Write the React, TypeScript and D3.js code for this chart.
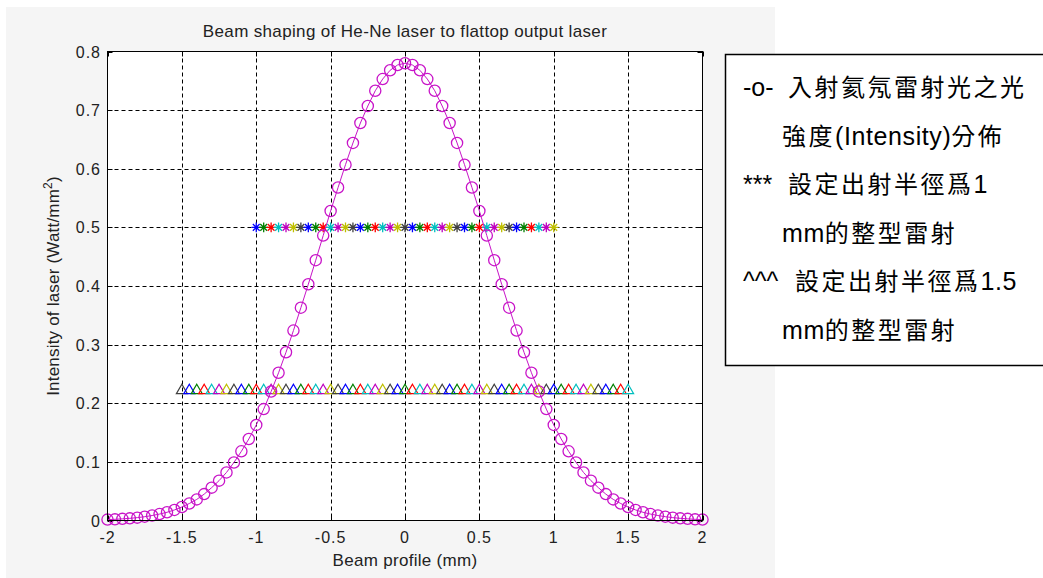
import React from 'react';
import * as d3 from 'd3';

// beam profile samples (mm) and measured He-Ne intensity (Watt/mm^2)
const beamX = [
  -2, -1.95, -1.9, -1.85, -1.8, -1.75, -1.7, -1.65, -1.6, -1.55,
  -1.5, -1.45, -1.4, -1.35, -1.3, -1.25, -1.2, -1.15, -1.1, -1.05,
  -1, -0.95, -0.9, -0.85, -0.8, -0.75, -0.7, -0.65, -0.6, -0.55,
  -0.5, -0.45, -0.4, -0.35, -0.3, -0.25, -0.2, -0.15, -0.1, -0.05,
  0, 0.05, 0.1, 0.15, 0.2, 0.25, 0.3, 0.35, 0.4, 0.45,
  0.5, 0.55, 0.6, 0.65, 0.7, 0.75, 0.8, 0.85, 0.9, 0.95,
  1, 1.05, 1.1, 1.15, 1.2, 1.25, 1.3, 1.35, 1.4, 1.45,
  1.5, 1.55, 1.6, 1.65, 1.7, 1.75, 1.8, 1.85, 1.9, 1.95, 2,
];
const beamIntensity = [
  0.0015, 0.002, 0.0028, 0.0037, 0.0049, 0.0065, 0.0085, 0.011, 0.014, 0.018,
  0.023, 0.029, 0.036, 0.045, 0.056, 0.068, 0.082, 0.099, 0.118, 0.139,
  0.163, 0.19, 0.22, 0.252, 0.287, 0.324, 0.363, 0.403, 0.444, 0.486,
  0.528, 0.568, 0.607, 0.644, 0.678, 0.707, 0.733, 0.753, 0.768, 0.777,
  0.78, 0.777, 0.768, 0.753, 0.733, 0.707, 0.678, 0.644, 0.607, 0.568,
  0.528, 0.486, 0.444, 0.403, 0.363, 0.324, 0.287, 0.252, 0.22, 0.19,
  0.163, 0.139, 0.118, 0.099, 0.082, 0.068, 0.056, 0.045, 0.036, 0.029,
  0.023, 0.018, 0.014, 0.011, 0.0085, 0.0065, 0.0049, 0.0037, 0.0028, 0.002, 0.0015,
];

// flattop outputs: radius 1 mm (stars) and 1.5 mm (triangles)
const flat1Radius = 1;
const flat1Level = 0.5;
const flat15Radius = 1.5;
const flat15Level = 0.224;

const xTicks = [-2, -1.5, -1, -0.5, 0, 0.5, 1, 1.5, 2];
const yTicks = [0, 0.1, 0.2, 0.3, 0.4, 0.5, 0.6, 0.7, 0.8];

// old matlab ColorOrder b g r c m y k
const colorOrder = ['#0000ff', '#008000', '#ff0000', '#00bfbf', '#bf00bf', '#bfbf00', '#404040'];
const beamColor = '#c814c8';

const legendRows = [
  { mark: '-o-', text: '入射氦氖雷射光之光', textX: 788 },
  { mark: '', text: '強度(Intensity)分佈', textX: 782 },
  { mark: '***', text: '設定出射半徑爲1', textX: 788 },
  { mark: '', text: 'mm的整型雷射', textX: 782 },
  { mark: '^^^', text: '設定出射半徑爲1.5', textX: 795 },
  { mark: '', text: 'mm的整型雷射', textX: 782 },
];

const font = '"Liberation Sans", Arial, "Noto Sans CJK TC", sans-serif';

// CJK runs get extra spacing, latin runs stay tight
const splitRuns = (s: string) => s.match(/[\u3000-\u9fff]+|[^\u3000-\u9fff]+/g) || [];

const App: React.FC = () => {
  const width = 1043;
  const height = 578;
  const left = 107.5, right = 702.5, top = 51.5, bottom = 520.5;

  const x = d3.scaleLinear().domain([-2, 2]).range([left, right]);
  const y = d3.scaleLinear().domain([0, 0.8]).range([bottom, top]);

  const pts = beamX.map((v, i) => [v, beamIntensity[i]] as [number, number]);
  const line = d3.line<[number, number]>().x(d => x(d[0])).y(d => y(d[1]));

  const starX = beamX.filter(v => Math.abs(v) <= flat1Radius + 1e-9);
  const triX = beamX.filter(v => Math.abs(v) <= flat15Radius + 1e-9);

  const star = (cx: number, cy: number) => {
    const s = 4.8, d = 3.4;
    return `M${cx - s},${cy}L${cx + s},${cy}M${cx},${cy - s}L${cx},${cy + s}` +
      `M${cx - d},${cy - d}L${cx + d},${cy + d}M${cx - d},${cy + d}L${cx + d},${cy - d}`;
  };
  const tri = (cx: number, cy: number) =>
    `M${cx},${cy - 5}L${cx + 5.5},${cy + 4.5}L${cx - 5.5},${cy + 4.5}Z`;

  return (
    <svg width={width} height={height} style={{ position: 'absolute', left: 0, top: 0 }} fontFamily={font}>
      <rect x={0} y={0} width={width} height={height} fill="#fff" />
      <rect x={6} y={7} width={769} height={571} fill="#f5f5f5" />
      <rect x={left} y={top} width={right - left} height={bottom - top} fill="#fff" />

      {/* grid */}
      <g stroke="#000" strokeWidth={1} strokeDasharray="4,3">
        {xTicks.slice(1, -1).map(t => (
          <line key={'gx' + t} x1={Math.round(x(t)) + 0.5} x2={Math.round(x(t)) + 0.5} y1={top} y2={bottom} />
        ))}
        {yTicks.slice(1, -1).map(t => (
          <line key={'gy' + t} x1={left} x2={right} y1={Math.round(y(t)) + 0.5} y2={Math.round(y(t)) + 0.5} />
        ))}
      </g>

      {/* ticks */}
      <g stroke="#000" strokeWidth={1}>
        {xTicks.map(t => (
          <g key={'tx' + t}>
            <line x1={Math.round(x(t)) + 0.5} x2={Math.round(x(t)) + 0.5} y1={bottom} y2={bottom - 5} />
            <line x1={Math.round(x(t)) + 0.5} x2={Math.round(x(t)) + 0.5} y1={top} y2={top + 5} />
          </g>
        ))}
        {yTicks.map(t => (
          <g key={'ty' + t}>
            <line x1={left} x2={left + 5} y1={Math.round(y(t)) + 0.5} y2={Math.round(y(t)) + 0.5} />
            <line x1={right} x2={right - 5} y1={Math.round(y(t)) + 0.5} y2={Math.round(y(t)) + 0.5} />
          </g>
        ))}
      </g>

      {/* flattop 1 mm */}
      <g fill="none" strokeWidth={1.3}>
        {starX.map((v, i) => (
          <path key={'s' + i} d={star(x(v), y(flat1Level))} stroke={colorOrder[i % 7]} />
        ))}
      </g>
      {/* flattop 1.5 mm, colour order continues after the stars */}
      <g fill="none" strokeWidth={1.2}>
        {triX.map((v, i) => (
          <path key={'t' + i} d={tri(x(v), y(flat15Level))} stroke={colorOrder[(starX.length + i) % 7]} />
        ))}
      </g>

      {/* incident beam */}
      <path d={line(pts) || undefined} fill="none" stroke={beamColor} strokeWidth={1} />
      <g fill="none" stroke={beamColor} strokeWidth={1.3}>
        {pts.map((d, i) => (
          <circle key={'c' + i} cx={x(d[0])} cy={y(d[1])} r={5.6} />
        ))}
      </g>

      <rect x={left} y={top} width={right - left} height={bottom - top} fill="none" stroke="#000" strokeWidth={1} />

      {/* tick labels */}
      <g fontSize={16} fill="#222" letterSpacing={1}>
        {xTicks.map(t => (
          <text key={'lx' + t} x={x(t)} y={543} textAnchor="middle">{String(t)}</text>
        ))}
        {yTicks.map(t => (
          <text key={'ly' + t} x={101} y={y(t) + 6} textAnchor="end">{String(t)}</text>
        ))}
      </g>

      <text x={(left + right) / 2} y={37} textAnchor="middle" fontSize={17} letterSpacing={0.35} fill="#222">
        Beam shaping of He-Ne laser to flattop output laser
      </text>
      <text x={(left + right) / 2} y={566} textAnchor="middle" fontSize={17} letterSpacing={0.3} fill="#222">
        Beam profile (mm)
      </text>
      <text transform={`translate(59,${(top + bottom) / 2}) rotate(-90)`} textAnchor="middle" fontSize={17} letterSpacing={0.2} fill="#222">
        Intensity of laser (Watt/mm<tspan dy={-7} fontSize={12}>2</tspan><tspan dy={7}>)</tspan>
      </text>

      {/* legend */}
      <rect x={725.5} y={54.5} width={330} height={311} fill="#fff" stroke="#000" strokeWidth={1.5} />
      <g fontSize={24} fill="#000">
        {legendRows.map((r, i) => (
          <g key={'lg' + i}>
            {r.mark && <text x={743} y={96 + i * 48.5} fontSize={25}>{r.mark}</text>}
            <text x={r.textX} y={96 + i * 48.5}>
              {splitRuns(r.text).map((run, k) => (
                <tspan key={k} letterSpacing={/[\u3000-\u9fff]/.test(run) ? 2.5 : 0.6} fontSize={/[\u3000-\u9fff]/.test(run) ? 24 : 25}>{run}</tspan>
              ))}
            </text>
          </g>
        ))}
      </g>
    </svg>
  );
};

export default App;
